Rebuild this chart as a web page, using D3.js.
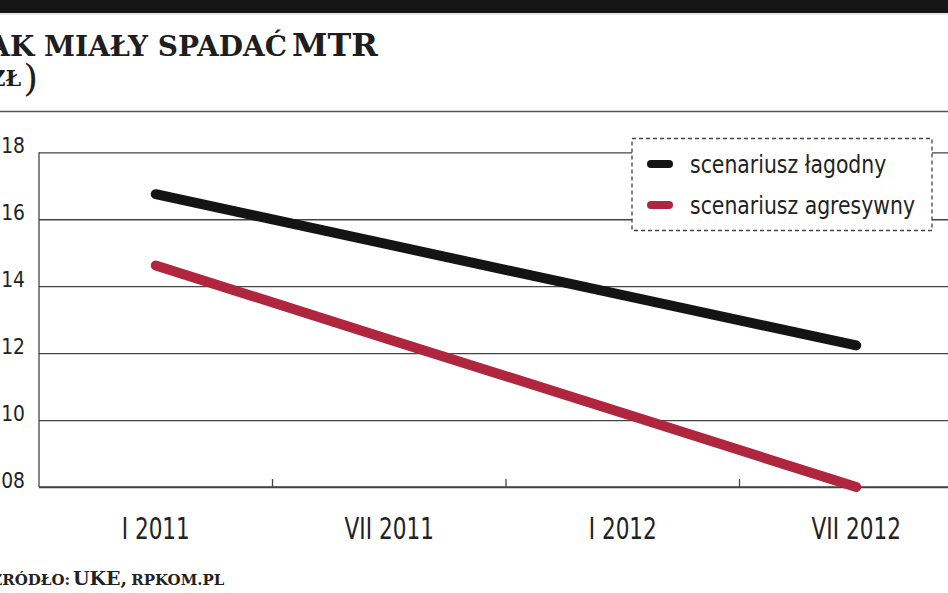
<!DOCTYPE html>
<html>
<head>
<meta charset="utf-8">
<script src="https://cdn.jsdelivr.net/npm/d3@7/dist/d3.min.js"></script>
<style>
  html, body { margin: 0; padding: 0; background: #fff; }
  svg { display: block; }
  .cond { font-family: "DejaVu Sans", sans-serif; }
  .slab { font-family: "DejaVu Serif", "Liberation Serif", serif; font-weight: bold; }
</style>
</head>
<body>
<svg id="chart" width="948" height="593"></svg>
<script>
const categories = ["I 2011", "VII 2011", "I 2012", "VII 2012"];
const mildValues = [0.1675, 0.1524, 0.1373, 0.1223];
const aggressiveValues = [0.1462, 0.1241, 0.1021, 0.0800];
const seriesNames = ["scenariusz łagodny", "scenariusz agresywny"];
const seriesColors = ["#141414", "#b0263f"];
const yTickValues = [0.08, 0.10, 0.12, 0.14, 0.16, 0.18];

const W = 948, H = 593;
const mLeft = 39, mBottom = 487, mTop = 152.3;
const svg = d3.select("#chart");

function condense(sel, f) {
  sel.each(function () {
    const l = this.getComputedTextLength();
    d3.select(this).attr("textLength", l * f).attr("lengthAdjust", "spacingAndGlyphs");
  });
}

// top black band
svg.append("rect").attr("x", 0).attr("y", 0).attr("width", W).attr("height", 13).attr("fill", "#161616");
svg.append("line").attr("x1", 0).attr("x2", W).attr("y1", 14).attr("y2", 14).attr("stroke", "#ccc").attr("stroke-width", 1);

// title
svg.append("text").attr("class", "slab").attr("x", 287).attr("y", 56)
  .attr("text-anchor", "end").attr("font-size", 28).attr("fill", "#1e1e1e")
  .text("JAK MIAŁY SPADAĆ");
svg.append("text").attr("class", "slab").attr("x", 292).attr("y", 56)
  .attr("font-size", 32).attr("fill", "#1e1e1e").text("MTR");
const sub = svg.append("text").attr("class", "slab").attr("x", 38).attr("y", 86)
  .attr("text-anchor", "end").attr("fill", "#1e1e1e");
sub.append("tspan").attr("font-size", 22).text("(W ZŁ");
sub.append("tspan").attr("font-size", 38).attr("dx", 2).attr("dy", 5)
  .style("font-weight", "normal").text(")");

// separator
svg.append("line").attr("x1", 0).attr("x2", W).attr("y1", 111.5).attr("y2", 111.5)
  .attr("stroke", "#555").attr("stroke-width", 1.5);

// scales
const x = d3.scaleBand().domain(categories).range([mLeft, 973]).padding(0);
const y = d3.scaleLinear().domain([0.08, 0.18]).range([mBottom, mTop]);
const fmt = v => d3.format(".2f")(v).replace(".", ",");

// y axis with gridlines
const yAxis = svg.append("g").attr("transform", `translate(${mLeft},0)`)
  .call(d3.axisLeft(y).tickValues(yTickValues).tickSize(-(W - mLeft)).tickPadding(14).tickFormat(fmt));
yAxis.select(".domain").remove();
yAxis.selectAll(".tick line").attr("stroke", "#444").attr("stroke-width", 1.3);
yAxis.selectAll(".tick text").attr("class", "cond").attr("font-size", 22).attr("fill", "#222")
  .attr("dy", "0.02em");
condense(yAxis.selectAll(".tick text"), 0.85);

// left axis line
svg.append("line").attr("x1", mLeft).attr("x2", mLeft).attr("y1", y(0.18)).attr("y2", y(0.08))
  .attr("stroke", "#444").attr("stroke-width", 1.3);

// x axis
const xAxis = svg.append("g").attr("transform", `translate(0,${mBottom})`)
  .call(d3.axisBottom(x).tickSize(0).tickPadding(31));
xAxis.select(".domain").remove();
xAxis.selectAll(".tick text").attr("class", "cond").attr("font-size", 30).attr("fill", "#222")
  .attr("dy", "0.71em");
condense(xAxis.selectAll(".tick text"), 0.72);
svg.append("line").attr("x1", mLeft).attr("x2", W).attr("y1", mBottom).attr("y2", mBottom)
  .attr("stroke", "#444").attr("stroke-width", 1.3);
svg.selectAll(".xtick").data(categories.slice(1)).join("line").attr("class", "xtick")
  .attr("x1", d => x(d)).attr("x2", d => x(d)).attr("y1", mBottom).attr("y2", mBottom - 8)
  .attr("stroke", "#444").attr("stroke-width", 1.3);

// lines
const series = [mildValues, aggressiveValues];
const lineGen = d3.line().x((d, i) => x(categories[i]) + x.bandwidth() / 2).y(d => y(d));
svg.selectAll(".series").data(series).join("path").attr("class", "series")
  .attr("d", d => lineGen(d)).attr("fill", "none")
  .attr("stroke", (d, i) => seriesColors[i]).attr("stroke-width", 10)
  .attr("stroke-linecap", "round").attr("stroke-linejoin", "round");

// legend
const lg = svg.append("g");
lg.append("rect").attr("x", 632).attr("y", 138.5).attr("width", 300).attr("height", 92)
  .attr("fill", "#fff").attr("stroke", "#444").attr("stroke-width", 1.3).attr("stroke-dasharray", "4,3");
seriesNames.forEach((name, i) => {
  const yy = 164 + i * 41;
  lg.append("line").attr("x1", 651).attr("x2", 669).attr("y1", yy).attr("y2", yy)
    .attr("stroke", seriesColors[i]).attr("stroke-width", 8).attr("stroke-linecap", "round");
  const t = lg.append("text").attr("class", "cond").attr("x", 690).attr("y", yy + 9)
    .attr("font-size", 24).attr("fill", "#222").text(name);
  condense(t, 0.85);
});

// source
svg.append("text").attr("class", "slab").attr("x", 70).attr("y", 585).attr("text-anchor", "end")
  .attr("font-size", 15).attr("fill", "#222").text("ŹRÓDŁO:");
const src = svg.append("text").attr("class", "slab").attr("x", 73).attr("y", 585).attr("fill", "#222");
src.append("tspan").attr("font-size", 19).text("UKE,");
src.append("tspan").attr("font-size", 15).attr("dx", 4).text("RPKOM.PL");
</script>
</body>
</html>
